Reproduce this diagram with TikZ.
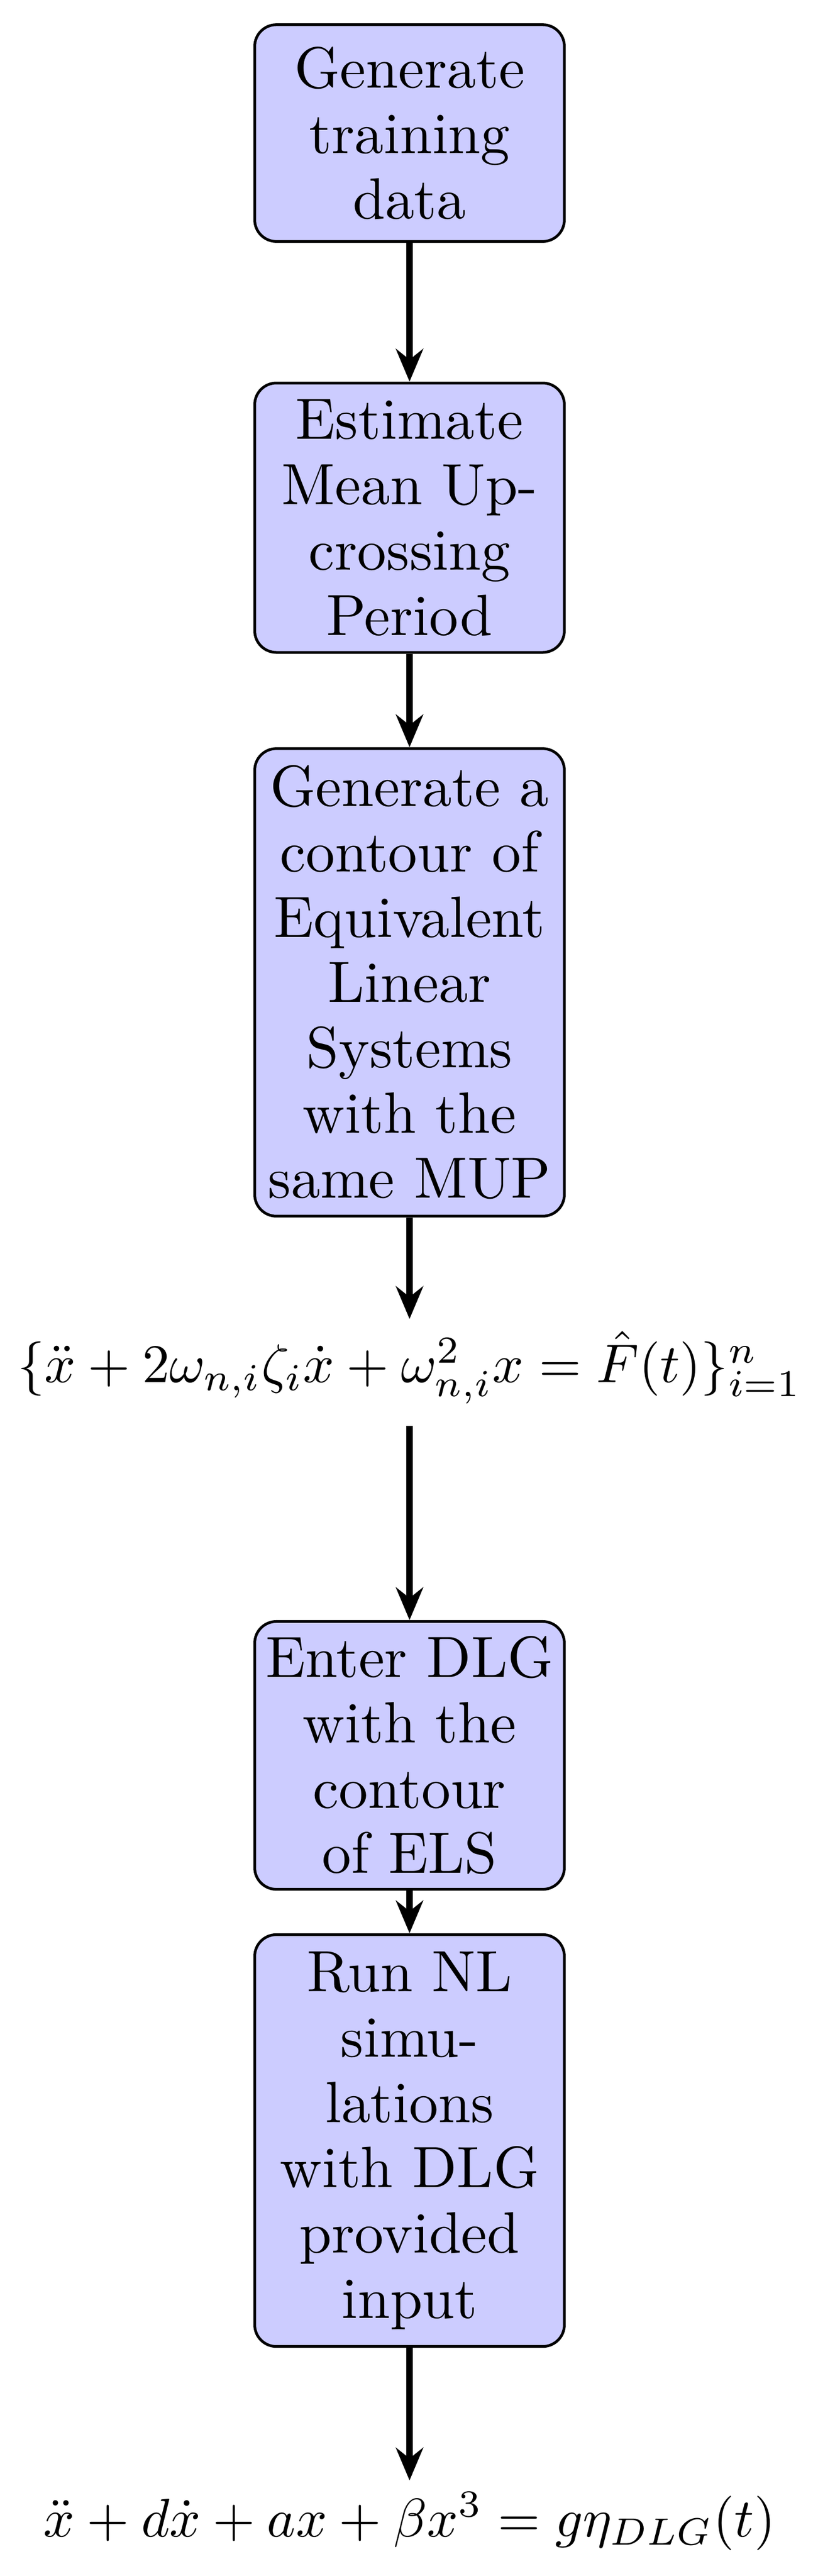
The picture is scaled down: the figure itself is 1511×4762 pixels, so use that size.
\documentclass[tikz,border=0pt]{standalone}
\usetikzlibrary{arrows.meta}
\begin{document}
\begin{tikzpicture}[x=0.0035cm,y=-0.0035cm,font=\fontsize{10.7}{12}\selectfont,
 box/.style={draw,line width=0.5pt,fill=blue!20,rounded corners=0.14cm,text width=1.9cm,align=center,minimum width=2.0cm,inner sep=1pt},
 eq/.style={inner sep=2pt,font=\fontsize{9.6}{12}\selectfont},
 arr/.style={line width=1.2pt,-{Stealth[length=6pt,width=5pt]}}]
\useasboundingbox (0,0) rectangle (1511,4762);
\node[box,minimum height=1.4cm] (a) at (757,246) {Generate\\training\\data};
\node[box,minimum height=1.74cm] (b) at (757,957) {Estimate\\Mean Up-\\crossing\\Period};
\node[box,minimum height=3.02cm] (c) at (757,1816) {Generate a\\contour of\\Equivalent\\Linear\\Systems\\with the\\same MUP};
\node[eq] (e1) at (757,2528) {$\{\ddot{x}+2\omega_{n,i}\zeta_i\dot{x}+\omega_{n,i}^2x=\hat{F}(t)\}_{i=1}^n$};
\coordinate (s1) at (757,2636);
\node[box,minimum height=1.73cm] (d) at (757,3245) {Enter DLG\\with the\\contour\\of ELS};
\node[box,minimum height=2.66cm] (f) at (757,3957) {Run NL\\simu-\\lations\\with DLG\\provided\\input};
\node[eq] (e2) at (757,4661) {$\ddot{x}+d\dot{x}+ax+\beta x^3=g\eta_{DLG}(t)$};
\draw[arr] (a) -- (b);
\draw[arr] (b) -- (c);
\draw[arr] (c) -- (e1);
\draw[arr] (s1) -- (d);
\draw[arr] (d) -- (f);
\draw[arr] (f) -- (e2);
\end{tikzpicture}
\end{document}
